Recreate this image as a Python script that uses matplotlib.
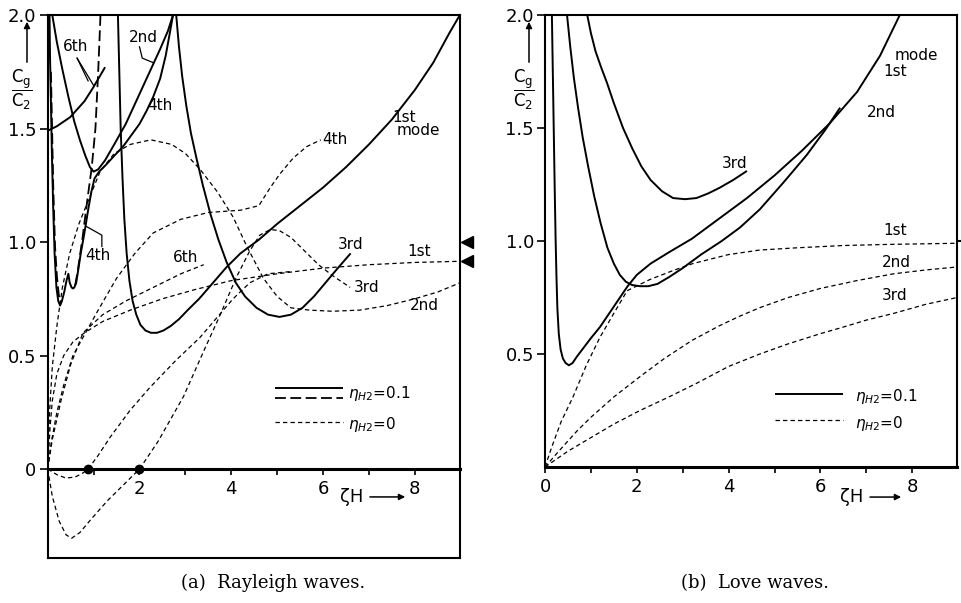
import matplotlib
matplotlib.use('Agg')
import matplotlib.pyplot as plt
import matplotlib.transforms as mtransforms
from matplotlib.patches import FancyArrowPatch
from matplotlib.markers import TICKRIGHT

# 字体设置
plt.rcParams['font.family'] = ['DejaVu Sans']
plt.rcParams['mathtext.fontset'] = 'dejavusans'

# ================= (a) Rayleigh waves =================
# eta_H2 = 0.1, 实线
ray_1st_x = [1.53, 1.56, 1.59, 1.63, 1.67, 1.72, 1.78, 1.85, 1.93, 2.02, 2.13, 2.25, 2.38,
             2.52, 2.68, 2.86, 3.05, 3.30, 3.60, 3.90, 4.20, 4.60, 5.00, 5.50, 6.00, 6.50,
             7.00, 7.50, 8.00, 8.40, 8.75, 8.98]
ray_1st_y = [2.00, 1.75, 1.50, 1.28, 1.10, 0.95, 0.83, 0.74, 0.68, 0.635, 0.61, 0.60, 0.60,
             0.61, 0.63, 0.66, 0.70, 0.75, 0.82, 0.89, 0.95, 1.01, 1.08, 1.16, 1.24, 1.33,
             1.43, 1.54, 1.67, 1.79, 1.92, 2.00]
ray_3rd_x = [2.80, 2.86, 2.93, 3.02, 3.12, 3.24, 3.38, 3.55, 3.72, 3.90, 4.10, 4.30, 4.55,
             4.80, 5.05, 5.30, 5.55, 5.80, 6.05, 6.30, 6.60]
ray_3rd_y = [2.00, 1.86, 1.73, 1.60, 1.48, 1.37, 1.25, 1.12, 1.01, 0.91, 0.82, 0.76, 0.71,
             0.68, 0.67, 0.68, 0.71, 0.76, 0.82, 0.88, 0.95]
ray_2nd_x = [0.10, 0.20, 0.32, 0.45, 0.58, 0.70, 0.82, 0.92, 1.00, 1.10, 1.25, 1.45, 1.70,
             1.95, 2.20, 2.45, 2.62, 2.73]
ray_2nd_y = [2.00, 1.88, 1.76, 1.64, 1.53, 1.45, 1.38, 1.33, 1.31, 1.32, 1.36, 1.43, 1.52,
             1.63, 1.74, 1.85, 1.93, 2.00]
ray_4th_x = [2.73, 2.66, 2.57, 2.45, 2.30, 2.16, 2.00, 1.82, 1.64, 1.45, 1.27, 1.12, 1.02,
             0.95, 0.88, 0.80, 0.72, 0.66, 0.62, 0.58, 0.55, 0.52, 0.48, 0.45, 0.41, 0.36,
             0.31, 0.27, 0.23, 0.19, 0.15, 0.12, 0.09, 0.07, 0.05, 0.04]
ray_4th_y = [2.00, 1.92, 1.82, 1.72, 1.64, 1.58, 1.52, 1.47, 1.42, 1.38, 1.34, 1.31, 1.28,
             1.22, 1.14, 1.04, 0.95, 0.87, 0.82, 0.80, 0.795, 0.80, 0.82, 0.86, 0.83, 0.78,
             0.74, 0.72, 0.74, 0.80, 0.95, 1.15, 1.40, 1.62, 1.82, 2.00]
ray_6th_x = [0.00, 0.20, 0.49, 0.80, 0.99, 1.25]
ray_6th_y = [1.49, 1.51, 1.55, 1.62, 1.68, 1.77]
# eta_H2 = 0.1, 长虚线
ray_long_a_x = [1.15, 1.10, 1.04, 0.96, 0.86, 0.76, 0.66, 0.60]
ray_long_a_y = [2.00, 1.75, 1.50, 1.33, 1.18, 1.02, 0.88, 0.81]
ray_long_b_x = [0.07, 0.09, 0.12, 0.16, 0.20, 0.24, 0.27]
ray_long_b_y = [1.75, 1.55, 1.25, 0.98, 0.85, 0.77, 0.73]
# eta_H2 = 0, 短虚线
ray0_1st_x = [0, 0.05, 0.10, 0.20, 0.35, 0.55, 0.80, 1.20, 1.80, 2.50, 3.20, 4.00, 5.00,
              6.00, 7.00, 8.00, 8.98]
ray0_1st_y = [0, 0.18, 0.30, 0.42, 0.50, 0.56, 0.60, 0.65, 0.70, 0.75, 0.79, 0.83, 0.86,
              0.885, 0.90, 0.91, 0.915]
ray0_6th_x = [0, 0.10, 0.30, 0.50, 0.77, 1.20, 1.70, 2.30, 2.90, 3.40]
ray0_6th_y = [0, 0.13, 0.31, 0.46, 0.60, 0.68, 0.74, 0.80, 0.86, 0.90]
ray0_4th_x = [0, 0.08, 0.20, 0.35, 0.55, 0.77, 1.10, 1.50, 1.90, 2.30, 2.90, 3.50, 4.20,
              4.60, 4.85, 5.06, 5.35, 5.64, 5.95]
ray0_4th_y = [0, 0.12, 0.25, 0.37, 0.50, 0.58, 0.70, 0.84, 0.95, 1.04, 1.10, 1.13, 1.14,
              1.16, 1.24, 1.30, 1.37, 1.42, 1.45]
ray0_2nd_x = [0, 0.04, 0.10, 0.20, 0.32, 0.48, 0.68, 0.92, 1.14, 1.45, 1.80, 2.25, 2.70,
              3.00, 3.32, 3.70, 4.04, 4.34, 4.70, 5.00, 5.30, 5.70, 6.20, 6.80, 7.40, 8.00,
              8.50, 8.98]
ray0_2nd_y = [0, 0.25, 0.45, 0.63, 0.80, 0.95, 1.08, 1.20, 1.31, 1.39, 1.43, 1.45, 1.43,
              1.39, 1.32, 1.22, 1.11, 0.98, 0.84, 0.76, 0.71, 0.70, 0.695, 0.70, 0.72, 0.75,
              0.78, 0.82]
ray0_5th_x = [0, 0.20, 0.40, 0.60, 0.75, 0.88, 1.10, 1.36, 1.80, 2.23, 2.80, 3.32, 3.70,
              4.04, 4.40, 4.80, 5.30]
ray0_5th_y = [0, -0.025, -0.04, -0.035, -0.02, 0, 0.06, 0.14, 0.26, 0.36, 0.48, 0.58, 0.67,
              0.75, 0.82, 0.86, 0.87]
ray0_3rd_x = [0, 0.10, 0.25, 0.40, 0.52, 0.70, 0.95, 1.30, 1.65, 2.00, 2.40, 2.96, 3.40,
              3.76, 4.10, 4.40, 4.62, 4.85, 5.05, 5.30, 5.60, 5.90, 6.22, 6.59]
ray0_3rd_y = [0, -0.12, -0.23, -0.29, -0.305, -0.28, -0.22, -0.14, -0.07, 0, 0.12, 0.32,
              0.52, 0.68, 0.84, 0.96, 1.03, 1.055, 1.05, 1.02, 0.96, 0.90, 0.85, 0.80]
# 零点和右侧极限值
ray_zero_x = [0.88, 2.00]
ray_limits = [1.00, 0.915]

# ================= (b) Love waves =================
love_1st_x = [0.15, 0.17, 0.19, 0.21, 0.23, 0.25, 0.27, 0.30, 0.34, 0.39, 0.45, 0.52, 0.60,
              0.70, 0.85, 1.00, 1.20, 1.40, 1.60, 1.80, 2.00, 2.30, 2.70, 3.20, 3.80, 4.40,
              5.00, 5.60, 6.20, 6.80, 7.30, 7.73]
love_1st_y = [2.00, 1.75, 1.50, 1.25, 1.02, 0.84, 0.70, 0.59, 0.52, 0.48, 0.46, 0.45, 0.46,
              0.49, 0.53, 0.57, 0.62, 0.68, 0.74, 0.80, 0.85, 0.90, 0.95, 1.01, 1.10, 1.19,
              1.29, 1.40, 1.52, 1.66, 1.82, 2.00]
love_2nd_x = [0.48, 0.55, 0.63, 0.72, 0.82, 0.94, 1.07, 1.21, 1.36, 1.50, 1.63, 1.76, 1.90,
              2.07, 2.25, 2.45, 2.70, 3.00, 3.40, 3.85, 4.25, 4.68, 5.20, 5.70, 6.10, 6.43]
love_2nd_y = [2.00, 1.86, 1.72, 1.59, 1.46, 1.33, 1.20, 1.08, 0.97, 0.90, 0.85, 0.82, 0.805,
              0.80, 0.80, 0.81, 0.84, 0.88, 0.94, 1.00, 1.06, 1.14, 1.26, 1.38, 1.49, 1.59]
love_3rd_x = [0.92, 1.00, 1.10, 1.22, 1.35, 1.50, 1.70, 1.90, 2.10, 2.30, 2.55, 2.79, 3.05,
              3.30, 3.55, 3.80, 4.10, 4.40]
love_3rd_y = [2.00, 1.92, 1.84, 1.77, 1.70, 1.61, 1.50, 1.41, 1.33, 1.27, 1.22, 1.19, 1.185,
              1.19, 1.21, 1.235, 1.27, 1.31]
love0_1st_x = [0, 0.15, 0.35, 0.61, 0.90, 1.20, 1.50, 1.79, 2.29, 2.80, 3.22, 4.00, 4.68,
               5.50, 6.50, 7.50, 8.98]
love0_1st_y = [0, 0.09, 0.20, 0.31, 0.45, 0.575, 0.68, 0.78, 0.83, 0.87, 0.90, 0.94, 0.96,
               0.97, 0.98, 0.985, 0.99]
love0_2nd_x = [0, 0.30, 0.70, 1.00, 1.50, 2.07, 2.60, 3.20, 3.80, 4.25, 4.68, 5.30, 6.00,
               6.80, 7.60, 8.30, 8.98]
love0_2nd_y = [0, 0.07, 0.16, 0.22, 0.31, 0.40, 0.48, 0.56, 0.625, 0.668, 0.705, 0.75, 0.79,
               0.825, 0.855, 0.872, 0.885]
love0_3rd_x = [0, 0.50, 1.00, 1.50, 2.07, 2.70, 3.30, 4.00, 4.68, 5.30, 6.00, 6.43, 7.00,
               7.60, 8.30, 8.98]
love0_3rd_y = [0, 0.07, 0.13, 0.19, 0.25, 0.31, 0.37, 0.445, 0.50, 0.545, 0.59, 0.615, 0.65,
               0.68, 0.72, 0.75]

# 线型
SOLID = dict(color='black', lw=1.4, solid_capstyle='butt', solid_joinstyle='round')
LONG = dict(color='black', lw=1.3, dashes=(6, 2.5))
SHORT = dict(color='black', lw=0.9, dashes=(3.5, 2.5))
LBL = dict(fontsize=11, ha='center', va='center')


def style_axes(ax, xmax, ymin, yticks, ylabels, xticks, xlabels):
    ax.set_xlim(0, xmax)
    ax.set_ylim(ymin, 2.0)
    for s in ax.spines.values():
        s.set_linewidth(1.5)
    ax.set_xticks(xticks)
    ax.set_xticklabels(xlabels)
    ax.set_xticks([1, 3, 5, 7], minor=True)
    ax.set_yticks(yticks)
    ax.set_yticklabels(ylabels)
    ax.tick_params(axis='x', which='both', direction='out', length=4, width=1.2,
                   pad=4, labelsize=13)
    ax.tick_params(axis='y', direction='out', length=6, width=1.2, pad=2, labelsize=13)


def draw_rayleigh(fig):
    ax = fig.add_axes([0.04964, 0.07463, 0.42903, 0.90050])
    style_axes(ax, 8.983, -0.392, [0, 0.5, 1.0, 1.5, 2.0], ['0', '0.5', '1.0', '1.5', '2.0'],
               [2, 4, 6, 8], ['2', '4', '6', '8'])
    # x 轴放在 y=0 处，外框底边另画
    ax.spines['bottom'].set_position(('data', 0))
    ax.spines['bottom'].set_linewidth(2.2)
    ax.plot([0, 1], [0, 0], transform=ax.transAxes, color='black', lw=1.5, clip_on=False)

    for xs, ys in [(ray_1st_x, ray_1st_y), (ray_3rd_x, ray_3rd_y), (ray_2nd_x, ray_2nd_y),
                   (ray_4th_x, ray_4th_y), (ray_6th_x, ray_6th_y)]:
        ax.plot(xs, ys, **SOLID)
    for xs, ys in [(ray_long_a_x, ray_long_a_y), (ray_long_b_x, ray_long_b_y)]:
        ax.plot(xs, ys, **LONG)
    for xs, ys in [(ray0_1st_x, ray0_1st_y), (ray0_6th_x, ray0_6th_y), (ray0_4th_x, ray0_4th_y),
                   (ray0_2nd_x, ray0_2nd_y), (ray0_5th_x, ray0_5th_y), (ray0_3rd_x, ray0_3rd_y)]:
        ax.plot(xs, ys, **SHORT)
    ax.plot(ray_zero_x, [0] * len(ray_zero_x), 'o', color='black', ms=6, clip_on=False)

    # 右侧极限值三角标记
    trans = mtransforms.offset_copy(ax.get_yaxis_transform(), fig=fig, x=7, units='dots')
    ax.plot([1.0] * len(ray_limits), ray_limits, transform=trans, marker='<', ms=9,
            color='black', ls='none', clip_on=False)

    # 曲线标注
    ax.text(7.77, 1.55, '1st', **LBL)
    ax.text(8.07, 1.49, 'mode', **LBL)
    ax.text(5.98, 1.45, '4th', fontsize=11, ha='left', va='center')
    ax.text(6.60, 0.99, '3rd', **LBL)
    ax.text(8.10, 0.96, '1st', **LBL)
    ax.text(6.95, 0.80, '3rd', **LBL)
    ax.text(8.20, 0.72, '2nd', **LBL)
    ax.text(3.00, 0.93, '6th', **LBL)
    ax.text(0.60, 1.86, '6th', **LBL)
    ax.text(2.08, 1.90, '2nd', **LBL)
    ax.text(2.45, 1.60, '4th', **LBL)
    ax.text(1.10, 0.94, '4th', **LBL)
    # 引线
    ax.plot([0.64, 0.88], [1.81, 1.71], color='black', lw=0.9)
    ax.plot([0.64, 1.00], [1.81, 1.69], color='black', lw=0.9)
    ax.plot([2.00, 2.06, 2.30], [1.86, 1.81, 1.79], color='black', lw=0.9)
    ax.plot([1.18, 1.18, 0.83], [0.98, 1.03, 1.07], color='black', lw=0.9)

    # 图例
    ax.plot([0.551, 0.716], [0.313, 0.313], transform=ax.transAxes, **SOLID)
    ax.plot([0.551, 0.716], [0.294, 0.294], transform=ax.transAxes, **LONG)
    ax.text(0.728, 0.303, r'$\eta_{H2}$=0.1', transform=ax.transAxes, fontsize=11,
            ha='left', va='center')
    ax.plot([0.551, 0.716], [0.250, 0.250], transform=ax.transAxes, **SHORT)
    ax.text(0.728, 0.245, r'$\eta_{H2}$=0', transform=ax.transAxes, fontsize=11,
            ha='left', va='center')

    # 横轴名称
    ax.text(6.62, -0.123, 'ζH', fontsize=13, ha='center', va='center')
    ax.annotate('', xy=(7.85, -0.123), xytext=(6.96, -0.123),
                arrowprops=dict(arrowstyle='-|>', lw=1.1, color='black', mutation_scale=9),
                annotation_clip=False)
    return ax


def draw_love(fig):
    ax = fig.add_axes([0.56712, 0.22554, 0.42872, 0.74959])
    style_axes(ax, 8.976, 0, [0.5, 1.0, 1.5, 2.0], ['0.5', '1.0', '1.5', '2.0'],
               [0, 2, 4, 6, 8], ['0', '2', '4', '6', '8'])
    ax.spines['bottom'].set_linewidth(2.2)

    for xs, ys in [(love_1st_x, love_1st_y), (love_2nd_x, love_2nd_y), (love_3rd_x, love_3rd_y)]:
        ax.plot(xs, ys, **SOLID)
    for xs, ys in [(love0_1st_x, love0_1st_y), (love0_2nd_x, love0_2nd_y),
                   (love0_3rd_x, love0_3rd_y)]:
        ax.plot(xs, ys, **SHORT)

    # 右侧 1.0 刻度
    ax.plot([1.0], [1.0], transform=ax.get_yaxis_transform(), marker=TICKRIGHT, ms=5,
            mew=1.5, color='black', clip_on=False)

    ax.text(8.08, 1.82, 'mode', **LBL)
    ax.text(7.62, 1.75, '1st', **LBL)
    ax.text(7.33, 1.57, '2nd', **LBL)
    ax.text(4.14, 1.345, '3rd', **LBL)
    ax.text(7.63, 1.045, '1st', **LBL)
    ax.text(7.65, 0.905, '2nd', **LBL)
    ax.text(7.62, 0.76, '3rd', **LBL)

    ax.plot([0.558, 0.723], [0.1615, 0.1615], transform=ax.transAxes, **SOLID)
    ax.text(0.752, 0.155, r'$\eta_{H2}$=0.1', transform=ax.transAxes, fontsize=11,
            ha='left', va='center')
    ax.plot([0.558, 0.723], [0.104, 0.104], transform=ax.transAxes, **SHORT)
    ax.text(0.752, 0.097, r'$\eta_{H2}$=0', transform=ax.transAxes, fontsize=11,
            ha='left', va='center')

    ax.text(6.68, -0.133, 'ζH', fontsize=13, ha='center', va='center')
    ax.annotate('', xy=(7.82, -0.133), xytext=(7.02, -0.133),
                arrowprops=dict(arrowstyle='-|>', lw=1.1, color='black', mutation_scale=9),
                annotation_clip=False)
    return ax


def ylabel_arrow(fig, xc, xa):
    # 纵轴名称 Cg/C2 及向上箭头（像素坐标）
    fig.text(xc / 961, 513 / 603, r'$\dfrac{\mathrm{C_g}}{\mathrm{C_2}}$', fontsize=12,
             ha='center', va='center')
    fig.add_artist(FancyArrowPatch(
        (xa / 961, 538 / 603), (xa / 961, 584 / 603), transform=fig.transFigure,
        arrowstyle='-|>', mutation_scale=9, lw=1.1, color='black'))


def main():
    fig = plt.figure(figsize=(9.61, 6.03), dpi=100)
    fig.patch.set_facecolor('white')
    draw_rayleigh(fig)
    draw_love(fig)
    ylabel_arrow(fig, 22, 27)
    ylabel_arrow(fig, 524, 529)
    fig.text(273 / 961, 1 - 583 / 603, '(a)  Rayleigh waves.', family='DejaVu Serif',
             fontsize=13, ha='center', va='center')
    fig.text(755 / 961, 1 - 583 / 603, '(b)  Love waves.', family='DejaVu Serif',
             fontsize=13, ha='center', va='center')
    fig.savefig('out.png', dpi=100)


if __name__ == '__main__':
    main()
